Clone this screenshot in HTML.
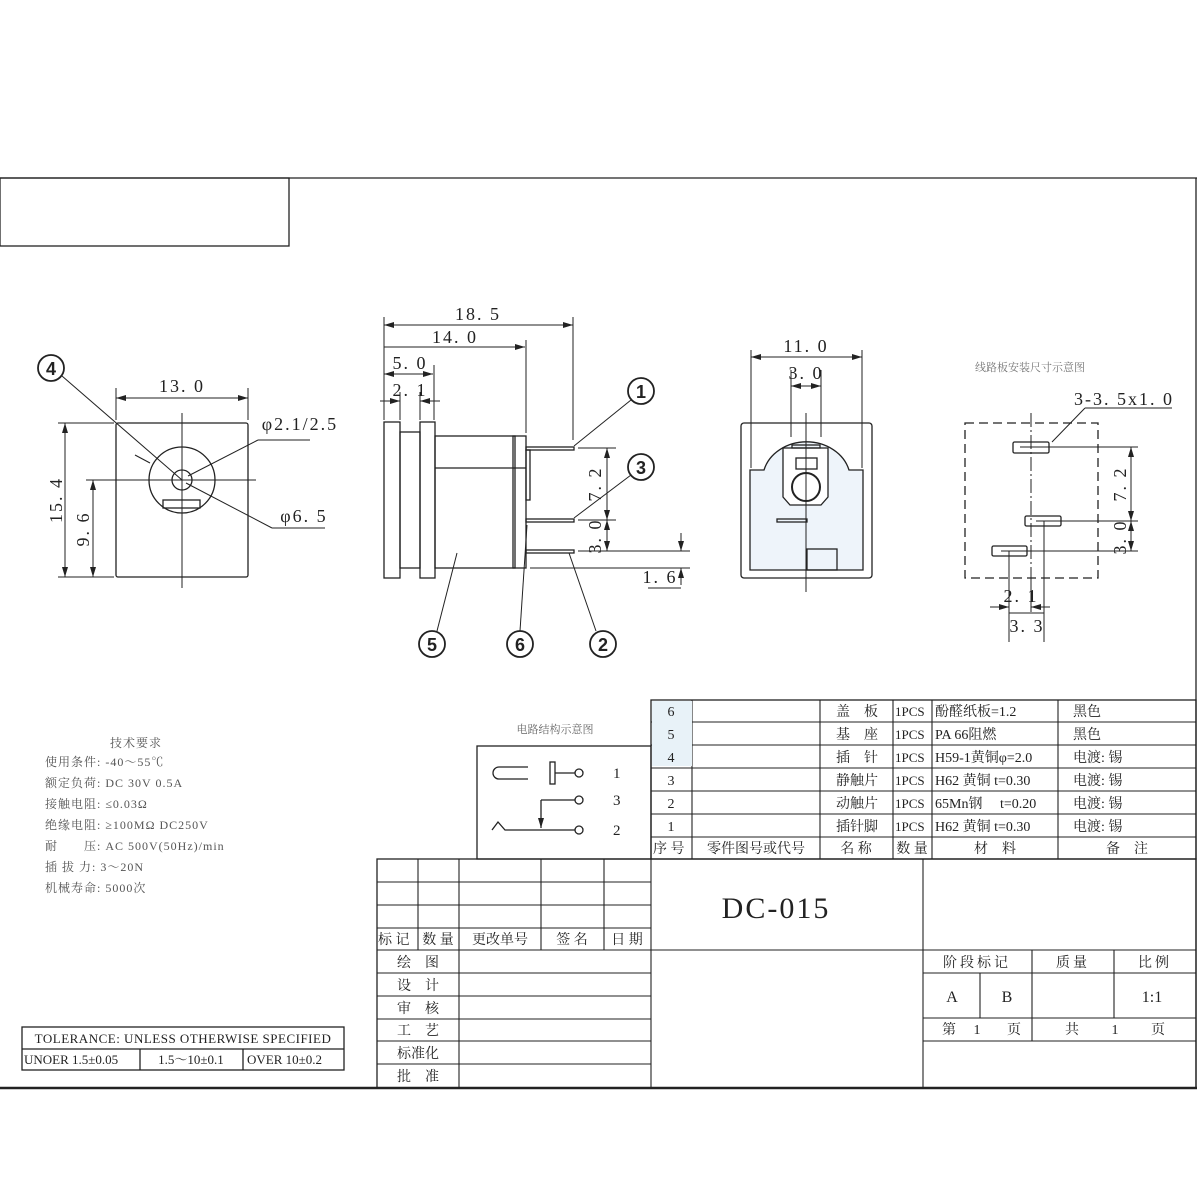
<!DOCTYPE html>
<html><head><meta charset="utf-8"><style>
html,body{margin:0;padding:0;background:#fff}
svg{display:block}
text{font-family:"Liberation Serif","Noto Serif CJK SC","Noto Sans CJK SC",serif;fill:#222}
</style></head><body>
<svg width="1200" height="1200" viewBox="0 0 1200 1200" xmlns="http://www.w3.org/2000/svg">
<defs>
<marker id="a" viewBox="0 0 10 6" refX="10" refY="3" markerWidth="10" markerHeight="6" orient="auto-start-reverse" markerUnits="userSpaceOnUse"><path d="M0,0 L10,3 L0,6 z" fill="#222"/></marker>
</defs>
<g fill="none" stroke="#222" stroke-width="1.3">
<line x1="0" y1="178" x2="1197" y2="178"/>
<line x1="1196" y1="178" x2="1196" y2="1088"/>
<line x1="0" y1="1088" x2="1197" y2="1088" stroke-width="2.5"/>
<rect x="0" y="178" width="289" height="68"/>

<rect x="116" y="423" width="132" height="154" rx="2"/>
<circle cx="182" cy="480" r="33"/>
<circle cx="182" cy="480" r="10"/>
<rect x="163" y="500" width="37" height="8"/>
<g stroke-width="1">
<line x1="182" y1="413" x2="182" y2="588"/>
<line x1="86" y1="480" x2="256" y2="480"/>
<line x1="116" y1="388" x2="116" y2="420"/><line x1="248" y1="388" x2="248" y2="420"/>
<line x1="116" y1="398" x2="248" y2="398" marker-start="url(#a)" marker-end="url(#a)"/>
<line x1="58" y1="423" x2="114" y2="423"/><line x1="58" y1="577" x2="114" y2="577"/>
<line x1="65" y1="423" x2="65" y2="577" marker-start="url(#a)" marker-end="url(#a)"/>
<line x1="93" y1="480" x2="93" y2="577" marker-start="url(#a)" marker-end="url(#a)"/>
<line x1="62" y1="376" x2="182" y2="480"/>
<line x1="188" y1="476" x2="258" y2="440"/><line x1="258" y1="440" x2="310" y2="440"/>
<line x1="135" y1="455" x2="150" y2="463"/>
<line x1="186" y1="483" x2="272" y2="528"/><line x1="272" y1="528" x2="325" y2="528"/>
</g>
<circle cx="51" cy="368" r="13" stroke-width="1.8"/>

<rect x="384" y="422" width="16" height="156"/>
<rect x="420" y="422" width="15" height="156"/>
<rect x="400" y="432" width="20" height="136"/>
<rect x="435" y="436" width="80" height="132"/>
<line x1="435" y1="468" x2="526" y2="468"/>
<rect x="513" y="436" width="13" height="132"/>
<rect x="526" y="450" width="4" height="50"/>
<rect x="526" y="447" width="48" height="3"/>
<rect x="526" y="519" width="48" height="3"/>
<rect x="526" y="550" width="48" height="3"/>
<g stroke-width="1">
<line x1="384" y1="317" x2="384" y2="420"/>
<line x1="573" y1="317" x2="573" y2="440"/>
<line x1="384" y1="325" x2="573" y2="325" marker-start="url(#a)" marker-end="url(#a)"/>
<line x1="526" y1="340" x2="526" y2="433"/>
<line x1="384" y1="347" x2="525" y2="347" marker-end="url(#a)"/>
<line x1="434" y1="365" x2="434" y2="420"/>
<line x1="384" y1="374" x2="433" y2="374" marker-start="url(#a)" marker-end="url(#a)"/>
<line x1="400" y1="392" x2="400" y2="420"/><line x1="420" y1="392" x2="420" y2="420"/>
<line x1="380" y1="401" x2="400" y2="401" marker-end="url(#a)"/>
<line x1="440" y1="401" x2="420" y2="401" marker-end="url(#a)"/>
<line x1="578" y1="448" x2="616" y2="448"/>
<line x1="578" y1="520" x2="616" y2="520"/>
<line x1="578" y1="551" x2="690" y2="551"/>
<line x1="530" y1="568" x2="690" y2="568"/>
<line x1="607" y1="448" x2="607" y2="520" marker-start="url(#a)" marker-end="url(#a)"/>
<line x1="607" y1="520" x2="607" y2="551" marker-start="url(#a)" marker-end="url(#a)"/>
<line x1="681" y1="533" x2="681" y2="551" marker-end="url(#a)"/>
<line x1="681" y1="585" x2="681" y2="568" marker-end="url(#a)"/>
<line x1="648" y1="588" x2="681" y2="588"/>
<line x1="574" y1="446" x2="631" y2="400"/>
<line x1="574" y1="518" x2="631" y2="475"/>
<line x1="457" y1="553" x2="437" y2="631"/>
<line x1="527" y1="525" x2="520" y2="631"/>
<line x1="569" y1="553" x2="596" y2="631"/>
</g>
<g stroke-width="1.8">
<circle cx="641" cy="391" r="13"/><circle cx="641" cy="467" r="13"/>
<circle cx="432" cy="644" r="13"/><circle cx="520" cy="644" r="13"/><circle cx="603" cy="644" r="13"/>
</g>

<rect x="741" y="423" width="131" height="155" rx="3"/>
<path d="M750,570 L750,470 L764,470 A44,38 0 0 1 849,470 L863,470 L863,570 Z" fill="#eef4fa"/>
<path d="M783,448 L828,448 L828,497 L821,505 L790,505 L783,497 Z" fill="#fff"/>
<rect x="796" y="458" width="21" height="11" fill="#fff"/>
<circle cx="806" cy="487" r="14" stroke-width="2"/>
<rect x="792" y="445" width="28" height="3"/>
<rect x="777" y="519" width="30" height="3"/>
<rect x="807" y="549" width="30" height="21"/>
<g stroke-width="1">
<line x1="806" y1="413" x2="806" y2="592"/>
<line x1="751" y1="350" x2="751" y2="468"/><line x1="862" y1="350" x2="862" y2="468"/>
<line x1="751" y1="357" x2="862" y2="357" marker-start="url(#a)" marker-end="url(#a)"/>
<line x1="791" y1="370" x2="791" y2="437"/><line x1="821" y1="370" x2="821" y2="437"/>
<line x1="791" y1="386" x2="821" y2="386" marker-start="url(#a)" marker-end="url(#a)"/>
</g>

<rect x="965" y="423" width="133" height="155" stroke-dasharray="9,5"/>
<rect x="1013" y="442" width="36" height="11" rx="1.5"/>
<rect x="1025" y="516" width="36" height="10" rx="1.5"/>
<rect x="992" y="546" width="35" height="10" rx="1.5"/>
<g stroke-width="1">
<line x1="1031" y1="413" x2="1031" y2="580" stroke-dasharray="14,3,2,3"/>
<line x1="1020" y1="447" x2="1138" y2="447"/>
<line x1="1036" y1="521" x2="1138" y2="521"/>
<line x1="1001" y1="551" x2="1138" y2="551"/>
<line x1="1131" y1="447" x2="1131" y2="521" marker-start="url(#a)" marker-end="url(#a)"/>
<line x1="1131" y1="521" x2="1131" y2="551" marker-start="url(#a)" marker-end="url(#a)"/>
<line x1="1052" y1="442" x2="1085" y2="408"/><line x1="1085" y1="408" x2="1172" y2="408"/>
<line x1="1009" y1="551" x2="1009" y2="642"/>
<line x1="1031" y1="580" x2="1031" y2="612"/>
<line x1="1044" y1="521" x2="1044" y2="642"/>
<line x1="990" y1="607" x2="1009" y2="607" marker-end="url(#a)"/>
<line x1="1050" y1="607" x2="1031" y2="607" marker-end="url(#a)"/>
<line x1="1009" y1="613" x2="1044" y2="613"/>
</g>

<rect x="477" y="746" width="174" height="113"/>
<path d="M528,767 L499,767 A6,6 0 0 0 499,779 L528,779" />
<rect x="550" y="762" width="5" height="22"/>
<line x1="555" y1="773" x2="575" y2="773"/>
<circle cx="579" cy="773" r="4"/>
<line x1="541" y1="800" x2="575" y2="800"/><circle cx="579" cy="800" r="4"/>
<line x1="541" y1="800" x2="541" y2="828" marker-end="url(#a)"/>
<path d="M492,830 L498,822 L505,830 L575,830"/><circle cx="579" cy="830" r="4"/>

<rect x="651" y="700" width="545" height="159"/>
<g stroke-width="1.1">
<line x1="651" y1="722" x2="1196" y2="722"/><line x1="651" y1="745" x2="1196" y2="745"/>
<line x1="651" y1="768" x2="1196" y2="768"/><line x1="651" y1="791" x2="1196" y2="791"/>
<line x1="651" y1="814" x2="1196" y2="814"/><line x1="651" y1="837" x2="1196" y2="837"/>
<line x1="692" y1="700" x2="692" y2="859"/><line x1="820" y1="700" x2="820" y2="859"/>
<line x1="893" y1="700" x2="893" y2="859"/><line x1="932" y1="700" x2="932" y2="859"/>
<line x1="1058" y1="700" x2="1058" y2="859"/>
</g>
<rect x="652" y="701" width="40" height="65" fill="#e8f2f8" stroke="none"/>

<rect x="377" y="859" width="819" height="229"/>
<g stroke-width="1.1">
<line x1="377" y1="882" x2="651" y2="882"/><line x1="377" y1="905" x2="651" y2="905"/>
<line x1="377" y1="928" x2="651" y2="928"/>
<line x1="377" y1="950" x2="1196" y2="950"/>
<line x1="377" y1="973" x2="651" y2="973"/><line x1="377" y1="996" x2="651" y2="996"/>
<line x1="377" y1="1019" x2="651" y2="1019"/><line x1="377" y1="1041" x2="651" y2="1041"/>
<line x1="377" y1="1064" x2="651" y2="1064"/>
<line x1="418" y1="859" x2="418" y2="950"/><line x1="459" y1="859" x2="459" y2="1088"/>
<line x1="541" y1="859" x2="541" y2="950"/><line x1="604" y1="859" x2="604" y2="950"/>
<line x1="651" y1="859" x2="651" y2="1088"/>
<line x1="923" y1="859" x2="923" y2="1088"/>
<line x1="923" y1="973" x2="1196" y2="973"/><line x1="923" y1="1018" x2="1196" y2="1018"/>
<line x1="923" y1="1041" x2="1196" y2="1041"/>
<line x1="980" y1="973" x2="980" y2="1018"/>
<line x1="1032" y1="950" x2="1032" y2="1041"/>
<line x1="1114" y1="950" x2="1114" y2="1018"/>
</g>

<rect x="22" y="1027" width="322" height="43"/>
<line x1="22" y1="1049" x2="344" y2="1049"/>
<line x1="140" y1="1049" x2="140" y2="1070"/><line x1="243" y1="1049" x2="243" y2="1070"/>
</g>

<g font-size="18" text-anchor="middle" letter-spacing="2">
<text x="182" y="392">13. 0</text>
<text x="300" y="430">φ2.1/2.5</text>
<text x="304" y="522">φ6. 5</text>
<text transform="translate(62,500) rotate(-90)">15. 4</text>
<text transform="translate(89,529) rotate(-90)">9. 6</text>
<text x="478" y="320">18. 5</text>
<text x="455" y="343">14. 0</text>
<text x="410" y="369">5. 0</text>
<text x="410" y="396">2. 1</text>
<text transform="translate(601,484) rotate(-90)">7. 2</text>
<text transform="translate(601,536) rotate(-90)">3. 0</text>
<text x="660" y="583">1. 6</text>
<text x="806" y="352">11. 0</text>
<text x="806" y="379">3. 0</text>
<text x="1124" y="405">3-3. 5x1. 0</text>
<text transform="translate(1126,484) rotate(-90)">7. 2</text>
<text transform="translate(1126,537) rotate(-90)">3. 0</text>
<text x="1021" y="602">2. 1</text>
<text x="1027" y="632">3. 3</text>
</g>
<g font-size="18" font-weight="bold" text-anchor="middle">
<text x="51" y="375" style="font-family:'Liberation Sans',sans-serif">4</text>
<text x="641" y="398" style="font-family:'Liberation Sans',sans-serif">1</text>
<text x="641" y="474" style="font-family:'Liberation Sans',sans-serif">3</text>
<text x="432" y="651" style="font-family:'Liberation Sans',sans-serif">5</text>
<text x="520" y="651" style="font-family:'Liberation Sans',sans-serif">6</text>
<text x="603" y="651" style="font-family:'Liberation Sans',sans-serif">2</text>
</g>
<text x="1030" y="371" font-size="11" text-anchor="middle" style="fill:#777">线路板安装尺寸示意图</text>
<text x="555" y="733" font-size="11" text-anchor="middle" style="fill:#666">电路结构示意图</text>
<g font-size="15">
<text x="613" y="778">1</text><text x="613" y="805">3</text><text x="613" y="835">2</text>
</g>

<g font-size="12" letter-spacing="1">
<text x="110" y="747" style="fill:#555">技术要求</text>
<text x="45" y="766" style="fill:#555">使用条件: -40～55℃</text>
<text x="45" y="787" style="fill:#555">额定负荷: DC 30V 0.5A</text>
<text x="45" y="808" style="fill:#555">接触电阻: ≤0.03Ω</text>
<text x="45" y="829" style="fill:#555">绝缘电阻: ≥100MΩ DC250V</text>
<text x="45" y="850" style="fill:#555">耐　　压: AC 500V(50Hz)/min</text>
<text x="45" y="871" style="fill:#555">插 拔 力: 3～20N</text>
<text x="45" y="892" style="fill:#555">机械寿命: 5000次</text>
</g>

<g font-size="13">
<text x="183" y="1043" text-anchor="middle" letter-spacing="0.5">TOLERANCE: UNLESS OTHERWISE SPECIFIED</text>
<text x="24" y="1064">UNOER 1.5±0.05</text>
<text x="191" y="1064" text-anchor="middle">1.5～10±0.1</text>
<text x="247" y="1064">OVER 10±0.2</text>
</g>

<g font-size="14">
<text x="671" y="716" text-anchor="middle">6</text>
<text x="671" y="739" text-anchor="middle">5</text>
<text x="671" y="762" text-anchor="middle">4</text>
<text x="671" y="785" text-anchor="middle">3</text>
<text x="671" y="808" text-anchor="middle">2</text>
<text x="671" y="831" text-anchor="middle">1</text>
<text x="836" y="716">盖　板</text>
<text x="836" y="739">基　座</text>
<text x="836" y="762">插　针</text>
<text x="836" y="785">静触片</text>
<text x="836" y="808">动触片</text>
<text x="836" y="831">插针脚</text>
<g font-size="13">
<text x="895" y="716">1PCS</text><text x="895" y="739">1PCS</text><text x="895" y="762">1PCS</text>
<text x="895" y="785">1PCS</text><text x="895" y="808">1PCS</text><text x="895" y="831">1PCS</text>
</g>
<text x="935" y="716">酚醛纸板=1.2</text>
<text x="935" y="739">PA 66阻燃</text>
<text x="935" y="762">H59-1黄铜φ=2.0</text>
<text x="935" y="785">H62 黄铜 t=0.30</text>
<text x="935" y="808">65Mn钢　 t=0.20</text>
<text x="935" y="831">H62 黄铜 t=0.30</text>
<text x="1073" y="716">黑色</text>
<text x="1073" y="739">黑色</text>
<text x="1073" y="762">电渡: 锡</text>
<text x="1073" y="785">电渡: 锡</text>
<text x="1073" y="808">电渡: 锡</text>
<text x="1073" y="831">电渡: 锡</text>
<text x="653" y="853">序 号</text>
<text x="756" y="853" text-anchor="middle">零件图号或代号</text>
<text x="856" y="853" text-anchor="middle">名 称</text>
<text x="912" y="853" text-anchor="middle">数 量</text>
<text x="995" y="853" text-anchor="middle">材　料</text>
<text x="1127" y="853" text-anchor="middle">备　注</text>
</g>

<g font-size="14">
<text x="378" y="944">标 记</text>
<text x="438" y="944" text-anchor="middle">数 量</text>
<text x="500" y="944" text-anchor="middle">更改单号</text>
<text x="572" y="944" text-anchor="middle">签 名</text>
<text x="627" y="944" text-anchor="middle">日 期</text>
<text x="418" y="967" text-anchor="middle">绘　图</text>
<text x="418" y="990" text-anchor="middle">设　计</text>
<text x="418" y="1013" text-anchor="middle">审　核</text>
<text x="418" y="1035" text-anchor="middle">工　艺</text>
<text x="418" y="1058" text-anchor="middle">标准化</text>
<text x="418" y="1081" text-anchor="middle">批　准</text>
<text x="977" y="967" text-anchor="middle" letter-spacing="3">阶段标记</text>
<text x="1073" y="967" text-anchor="middle" letter-spacing="3">质量</text>
<text x="1155" y="967" text-anchor="middle" letter-spacing="3">比例</text>
<text x="952" y="1002" text-anchor="middle" font-size="16">A</text>
<text x="1007" y="1002" text-anchor="middle" font-size="16">B</text>
<text x="1152" y="1002" text-anchor="middle" font-size="16">1:1</text>
<text x="942" y="1034">第</text><text x="977" y="1034" text-anchor="middle">1</text><text x="1014" y="1034" text-anchor="middle">页</text>
<text x="1072" y="1034" text-anchor="middle">共</text><text x="1115" y="1034" text-anchor="middle">1</text><text x="1158" y="1034" text-anchor="middle">页</text>
</g>
<text x="776" y="918" font-size="30" text-anchor="middle" letter-spacing="2">DC-015</text>
</svg>
</body></html>
